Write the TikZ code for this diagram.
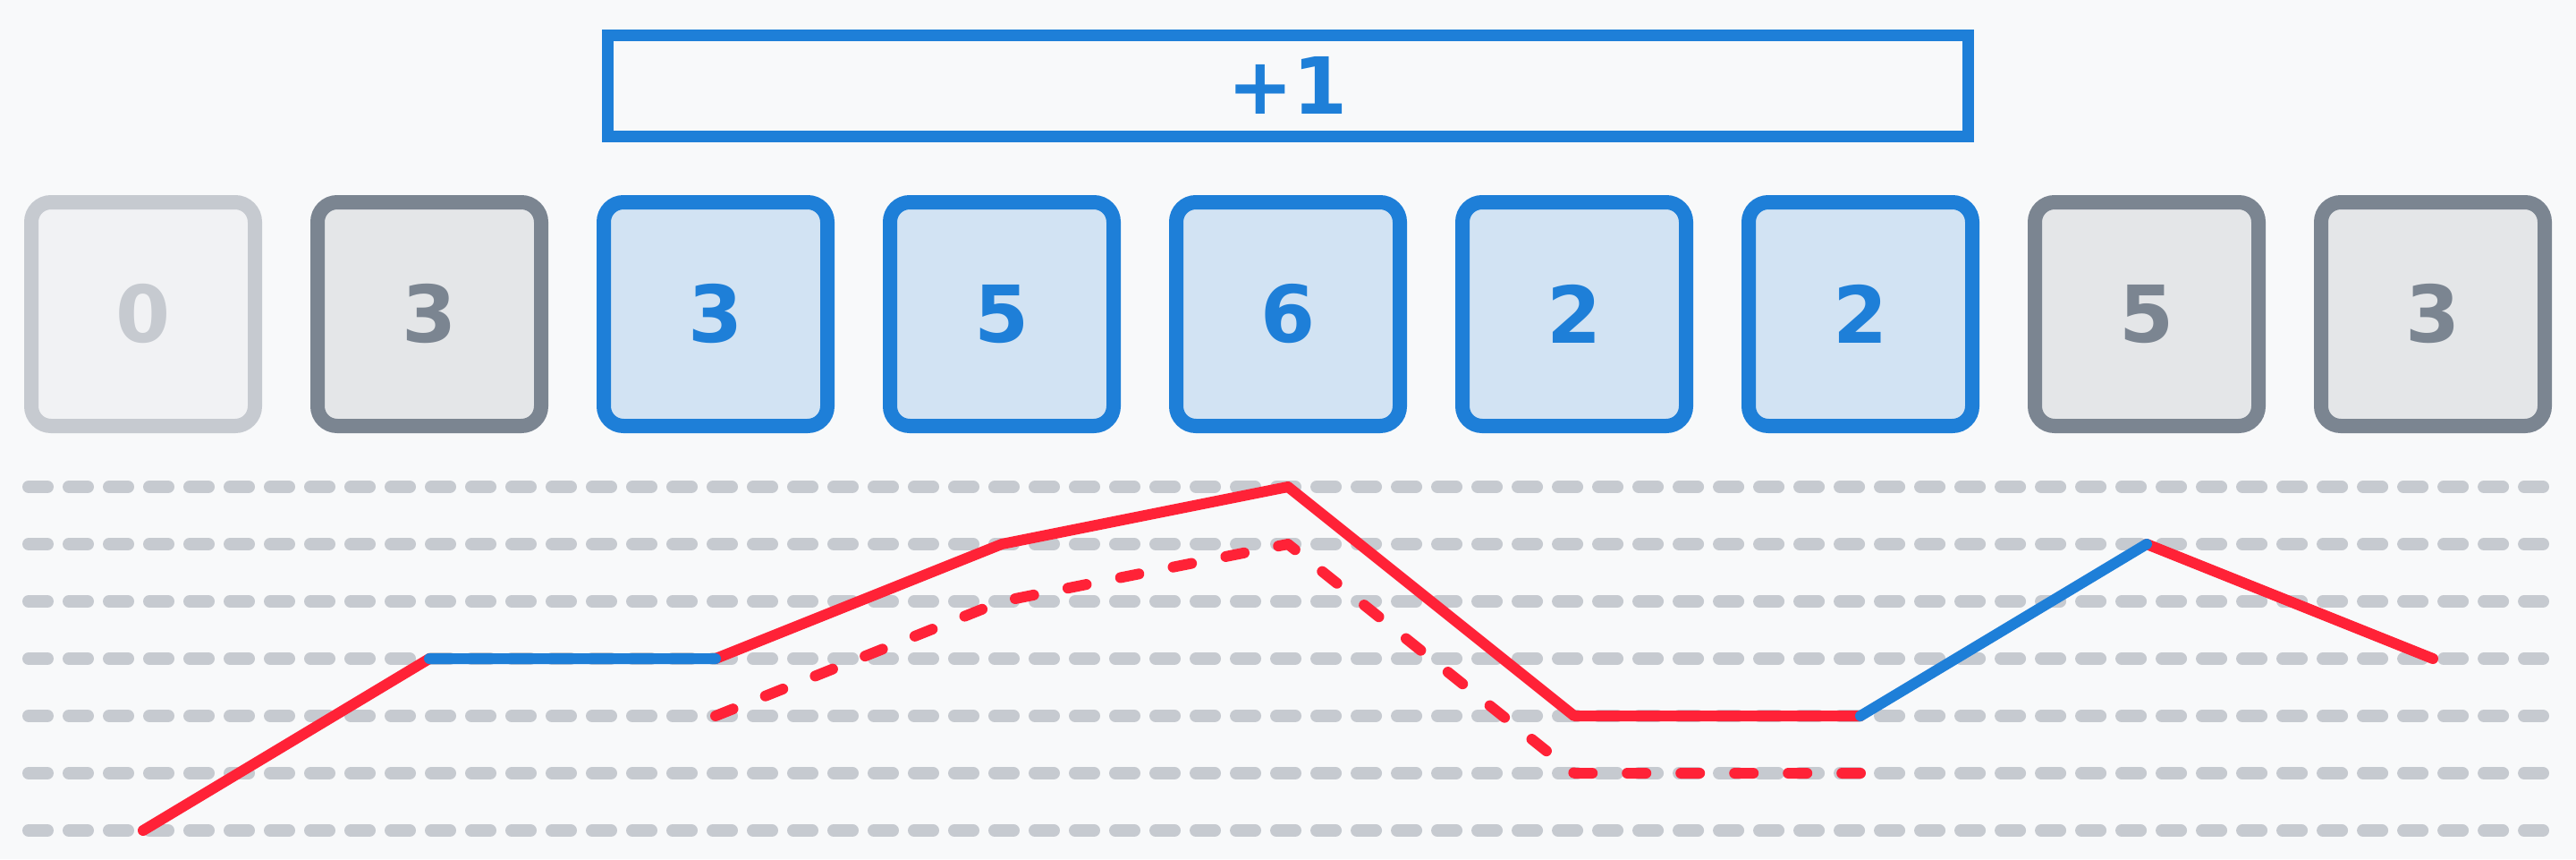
\documentclass[tikz,border=0pt]{standalone}
\usepackage{fontspec}
\setmainfont{DejaVu Sans}
\usepackage{tikz}
\usetikzlibrary{positioning}

\definecolor{bgcol}{HTML}{F8F9FA}
\definecolor{hiblue}{HTML}{1E7FD8}
\definecolor{hifill}{HTML}{D2E3F3}
\definecolor{midgray}{HTML}{7B8591}
\definecolor{midfill}{HTML}{E4E6E8}
\definecolor{lowgray}{HTML}{C6CAD0}
\definecolor{lowfill}{HTML}{F1F2F4}
\definecolor{hired}{HTML}{FF2237}

\tikzset{
  cell/.style={draw, rounded corners=0.22cm, line width=0.16cm, inner sep=0,
               minimum width=2.5cm, minimum height=2.5cm,
               font=\fontsize{25}{25}\selectfont\bfseries},
  cellout/.style={cell, draw=lowgray, fill=lowfill, text=lowgray},
  cellin/.style={cell, draw=midgray, fill=midfill, text=midgray},
  cellhit/.style={cell, draw=hiblue, fill=hifill, text=hiblue},
  guide/.style={lowgray, line width=0.14cm, line cap=round, dash pattern=on 0.21cm off 0.24cm},
  curve/.style={line width=0.12cm, line cap=round, line join=round},
  oldcurve/.style={hired, line width=0.12cm, line cap=round, line join=round, dash pattern=on 0.21cm off 0.39cm}
}

\begin{document}
\begin{tikzpicture}
      \fill [bgcol] (0, 0) rectangle (28.8, 9.6);
      \useasboundingbox (0, 0) rectangle (28.8, 9.6);
      % range update
      \draw [hiblue, line width=0.13cm] (6.79, 8.08) rectangle (22.0, 9.21) node (plus) [pos=.5, text=hiblue, font=\fontsize{25}{25}\selectfont\bfseries] {+1};
      % array cells
      \node (c0) [cellout] at (1.6, 6.09) {0};
      \node (c1) [cellin, right=0.54cm of c0] {3};
      \node (c2) [cellhit, right=0.54cm of c1] {3};
      \node (c3) [cellhit, right=0.54cm of c2] {5};
      \node (c4) [cellhit, right=0.54cm of c3] {6};
      \node (c5) [cellhit, right=0.54cm of c4] {2};
      \node (c6) [cellhit, right=0.54cm of c5] {2};
      \node (c7) [cellin, right=0.54cm of c6] {5};
      \node (c8) [cellin, right=0.54cm of c7] {3};
      % value levels
      \draw [guide] (0.32, 4.16) -- (28.43, 4.16)
                    (0.32, 3.52) -- (28.43, 3.52)
                    (0.32, 2.88) -- (28.43, 2.88)
                    (0.32, 2.24) -- (28.43, 2.24)
                    (0.32, 1.60) -- (28.43, 1.60)
                    (0.32, 0.96) -- (28.43, 0.96)
                    (0.32, 0.32) -- (28.43, 0.32);
      % heights after the update
      \coordinate (p0) at (c0.center |- 0, 0.32);
      \coordinate (p1) at (c1.center |- 0, 2.24);
      \coordinate (p2) at (c2.center |- 0, 2.24);
      \coordinate (p3) at (c3.center |- 0, 3.52);
      \coordinate (p4) at (c4.center |- 0, 4.16);
      \coordinate (p5) at (c5.center |- 0, 1.60);
      \coordinate (p6) at (c6.center |- 0, 1.60);
      \coordinate (p7) at (c7.center |- 0, 3.52);
      \coordinate (p8) at (c8.center |- 0, 2.24);
      % heights before the update
      \coordinate (q2) at (c2.center |- 0, 1.60);
      \coordinate (q3) at (c3.center |- 0, 2.88);
      \coordinate (q4) at (c4.center |- 0, 3.52);
      \coordinate (q5) at (c5.center |- 0, 0.96);
      \coordinate (q6) at (c6.center |- 0, 0.96);
      \draw [oldcurve] (q2) -- (q3) -- (q4) -- (q5) -- (q6);
      \draw [curve, hired] (p0) -- (p1)
                           (p2) -- (p3) -- (p4) -- (p5) -- (p6)
                           (p7) -- (p8);
      \draw [curve, hiblue] (p1) -- (p2)
                            (p6) -- (p7);
\end{tikzpicture}
\end{document}
